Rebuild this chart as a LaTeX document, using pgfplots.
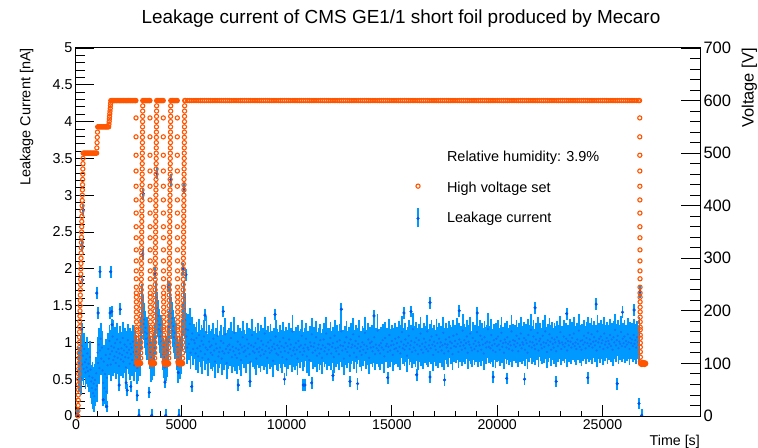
\documentclass[border=0pt]{standalone}
\usepackage{pgfplots}
\pgfplotsset{compat=1.18}
\usepackage{fontspec}
\setmainfont{Liberation Sans}
\definecolor{hvorange}{RGB}{255,85,0}
\definecolor{barblue}{RGB}{0,153,255}
\definecolor{dotblue}{RGB}{20,115,250}
\definecolor{dotdark}{RGB}{0,85,235}
\begin{document}
\begin{tikzpicture}
\useasboundingbox (-76bp,-32bp) rectangle (682bp,416bp);
\pgfplotsset{common/.style={width=624bp,height=368bp,scale only axis,xmin=0,xmax=29630,
  /pgf/number format/assume math mode=true,/pgf/number format/1000 sep={},
  tick align=inside,tick style={line width=0.9bp,color=black},axis line style={line width=1bp}},
  leak/.style n args={3}{color=#3,only marks,mark=*,mark size=#2,mark options={draw=none,fill=#3},
  error bars/.cd,y dir=both,y fixed=#1,error mark=none,error bar style={line width=1.8bp,color=barblue}}}
% frame and x ticks
\begin{axis}[common,ymin=0,ymax=5,xtick={0,5000,10000,15000,20000,25000},minor x tick num=4,
  xtick pos=left,ytick=\empty,major tick length=11bp,minor tick length=5.5bp,scaled x ticks=false,
  xticklabel style={font=\fontsize{14.2}{16}\selectfont}]
\end{axis}
% left axis: leakage current
\begin{axis}[common,ymin=0,ymax=5,axis x line=none,axis y line*=left,
  ytick={0,0.5,1,1.5,2,2.5,3,3.5,4,4.5,5},minor y tick num=4,major tick length=18bp,minor tick length=9bp,
  yticklabel style={font=\fontsize{14.4}{16}\selectfont},clip marker paths=true]
% dense readings
\addplot[leak={0.22}{0.9bp}{dotblue}] coordinates {
(130,0.55)(160,0.72)(190,0.63)(220,0.88)(250,0.51)(280,0.95)(300,0.70)
(330,0.82)(360,0.64)(390,0.91)(420,0.73)(450,0.59)(480,0.77)(510,0.66)(540,0.85)(570,0.61)(600,0.71)(630,0.54)(660,0.80)(690,0.63)
(720,0.47)(750,0.38)(780,0.52)(810,0.31)(840,0.44)(870,0.27)(900,0.49)(930,0.36)(960,0.58)(990,0.41)
(1020,0.86)(1050,0.72)(1080,0.97)(1110,0.65)(1140,0.89)(1170,1.05)(1200,0.78)(1230,0.93)
(1260,0.62)(1290,0.45)(1320,0.74)(1350,0.38)(1380,0.57)(1410,0.83)(1440,0.33)(1470,0.52)(1500,0.69)
(1530,0.91)(1560,0.78)(1590,1.02)(1620,0.84)(1650,0.70)(1680,0.95)(1710,0.88)(1740,1.08)(1770,0.76)(1800,0.93)
(1830,0.81)(1860,0.99)(1890,0.72)(1920,0.87)(1950,1.04)(1980,0.79)(2010,0.91)(2040,0.68)(2070,0.85)(2100,1.00)
(2130,0.77)(2160,0.92)(2190,0.83)(2220,1.06)(2250,0.74)(2280,0.89)(2310,0.97)(2340,0.80)(2370,0.66)(2400,0.94)
(2430,0.86)(2460,1.03)(2490,0.79)(2520,0.90)(2550,0.71)(2580,0.98)(2610,0.84)(2640,0.93)(2670,0.76)(2700,1.01)
(2730,0.87)(2760,0.69)(2790,0.95)(2820,0.82)
(2850,0.88)(2880,0.72)(2910,0.65)(2940,0.78)(2970,0.70)(3000,0.84)(3030,0.76)(3060,0.91)(3090,1.12)(3120,1.35)(3150,1.58)
(3180,1.42)(3210,1.25)(3240,1.31)(3270,1.14)(3300,1.20)(3330,1.05)(3360,1.12)(3390,0.98)(3420,1.06)(3450,0.93)(3480,1.00)
(3510,0.86)(3540,0.74)(3570,0.68)(3600,0.79)(3630,0.71)(3660,0.85)(3690,0.77)(3720,0.92)(3750,1.05)(3780,1.38)(3810,1.62)
(3840,1.47)(3870,1.29)(3900,1.36)(3930,1.18)(3960,1.24)(3990,1.08)(4020,1.15)(4050,1.01)(4080,1.09)(4110,0.95)
(4140,0.84)(4170,0.73)(4200,0.66)(4230,0.80)(4260,0.70)(4290,0.87)(4320,0.75)(4350,0.90)(4380,1.02)(4410,1.21)(4440,1.44)
(4470,1.59)(4500,1.40)(4530,1.27)(4560,1.33)(4590,1.16)(4620,1.22)(4650,1.07)(4680,1.13)(4710,0.99)(4740,1.05)(4770,0.94)
(4800,0.85)(4830,0.71)(4860,0.67)(4890,0.78)(4920,0.72)(4950,0.86)(4980,0.79)(5010,0.94)(5040,1.10)(5070,1.31)(5100,1.52)
(5130,1.61)(5160,1.45)(5190,1.30)(5220,1.18)
(5240,1.08)(5280,0.93)(5320,1.17)(5360,0.98)(5400,1.25)(5440,0.86)(5480,1.04)(5520,1.12)(5560,0.91)(5600,1.03)
(5640,0.99)(5680,0.85)(5720,1.06)(5760,0.92)(5800,0.81)(5840,1.10)(5880,0.95)(5920,0.88)(5960,1.02)(6000,0.79)
(6040,0.97)(6080,1.08)(6120,0.84)(6160,0.93)(6200,1.14)(6240,0.90)(6280,0.77)(6320,1.01)(6360,0.94)(6400,0.86)
(6440,0.96)(6480,0.83)(6520,1.05)(6560,0.89)(6600,0.74)(6640,0.98)(6680,0.92)(6720,1.09)(6760,0.81)(6800,0.87)
(6840,0.93)(6880,1.02)(6920,0.78)(6960,0.88)(7000,0.99)(7040,0.85)(7080,1.11)(7120,0.91)(7160,0.72)(7200,0.95)
(7240,0.86)(7280,0.97)(7320,0.90)(7360,1.06)(7400,0.80)(7440,0.94)(7480,0.88)(7520,1.13)(7560,0.83)(7600,0.92)
(7640,0.79)(7680,1.01)(7720,0.90)(7760,0.85)(7800,0.97)(7840,0.76)(7880,0.93)(7920,1.07)(7960,0.87)(8000,0.95)
(8040,0.89)(8080,0.81)(8120,1.04)(8160,0.92)(8200,0.98)(8240,0.84)(8280,0.73)(8320,0.96)(8360,1.10)(8400,0.88)
(8440,0.94)(8480,0.86)(8520,0.99)(8560,0.78)(8600,0.91)(8640,1.05)(8680,0.87)(8720,0.93)(8760,0.82)(8800,1.02)
(8840,0.90)(8880,0.97)(8920,0.84)(8960,1.12)(9000,0.88)(9040,0.95)(9080,0.79)(9120,1.00)(9160,0.92)(9200,0.86)
(9240,1.03)(9280,0.89)(9320,0.94)(9360,0.75)(9400,0.98)(9440,0.91)(9480,1.08)(9520,0.85)(9560,0.96)(9600,0.83)
(9640,0.92)(9680,1.01)(9720,0.87)(9760,0.95)(9800,0.80)(9840,1.06)(9880,0.93)(9920,0.88)(9960,0.99)(10000,0.77)
(10040,0.95)(10080,0.86)(10120,1.04)(10160,0.91)(10200,0.97)(10240,0.82)(10280,1.15)(10320,0.89)(10360,0.93)(10400,0.84)
(10440,0.99)(10480,0.90)(10520,0.78)(10560,1.02)(10600,0.94)(10640,0.87)(10680,0.96)(10720,1.09)(10760,0.83)(10800,0.92)
(10840,0.88)(10880,0.97)(10920,1.05)(10960,0.81)(11000,0.93)(11040,0.90)(11080,0.76)(11120,1.00)(11160,0.95)(11200,1.11)
(11240,0.86)(11280,0.94)(11320,0.99)(11360,0.89)(11400,1.07)(11440,0.82)(11480,0.92)(11520,0.97)(11560,0.85)(11600,1.03)
(11640,0.91)(11680,0.79)(11720,0.96)(11760,1.04)(11800,0.88)(11840,0.93)(11880,1.12)(11920,0.84)(11960,0.98)(12000,0.90)
(12040,0.97)(12080,1.06)(12120,0.85)(12160,0.94)(12200,0.99)(12240,0.80)(12280,1.09)(12320,0.92)(12360,0.88)(12400,1.01)
(12440,0.93)(12480,0.84)(12520,1.03)(12560,0.96)(12600,1.15)(12640,0.89)(12680,0.95)(12720,0.78)(12760,1.00)(12800,0.91)
(12840,1.07)(12880,0.87)(12920,0.94)(12960,0.99)(13000,0.82)(13040,1.04)(13080,0.93)(13120,0.97)(13160,1.11)(13200,0.86)
(13240,0.95)(13280,1.02)(13320,0.80)(13360,0.92)(13400,0.98)(13440,1.08)(13480,0.88)(13520,0.94)(13560,0.83)(13600,1.00)
(13640,0.90)(13680,0.97)(13720,1.13)(13760,0.86)(13800,0.95)(13840,0.91)(13880,1.04)(13920,0.79)(13960,0.99)(14000,0.93)
(14040,1.01)(14080,0.88)(14120,0.94)(14160,1.07)(14200,0.84)(14240,0.97)(14280,0.92)(14320,1.16)(14360,0.89)(14400,0.96)
(14440,0.85)(14480,0.99)(14520,0.93)(14560,1.03)(14600,0.90)(14640,0.81)(14680,1.06)(14720,0.95)(14760,0.98)(14800,0.87)
(14840,0.94)(14880,1.10)(14920,0.89)(14960,0.96)(15000,1.02)(15040,0.83)(15080,0.97)(15120,0.91)(15160,1.05)(15200,0.92)
(15240,0.99)(15280,0.88)(15320,1.07)(15360,0.94)(15400,0.85)(15440,1.01)(15480,1.14)(15520,0.92)(15560,0.97)(15600,0.90)
(15640,1.04)(15680,0.95)(15720,0.82)(15760,0.99)(15800,1.09)(15840,0.91)(15880,0.96)(15920,1.02)(15960,0.87)(16000,1.18)
(16040,0.93)(16080,1.00)(16120,0.89)(16160,1.06)(16200,0.97)(16240,0.84)(16280,1.03)(16320,0.95)(16360,1.12)(16400,0.90)
(16440,0.98)(16480,0.86)(16520,1.05)(16560,0.94)(16600,1.00)(16640,0.91)(16680,1.15)(16720,0.88)(16760,0.96)(16800,1.03)
(16840,0.92)(16880,1.08)(16920,0.97)(16960,0.83)(17000,1.01)(17040,0.95)(17080,0.90)(17120,1.10)(17160,0.99)(17200,0.87)
(17240,1.05)(17280,0.94)(17320,1.00)(17360,0.89)(17400,0.96)(17440,1.13)(17480,0.85)(17520,0.98)(17560,1.04)(17600,0.93)
(17640,0.97)(17680,0.88)(17720,1.07)(17760,1.01)(17800,0.92)(17840,0.99)(17880,0.84)(17920,1.09)(17960,0.95)(18000,1.02)
(18040,0.94)(18080,1.11)(18120,0.98)(18160,0.87)(18200,1.04)(18240,0.95)(18280,1.00)(18320,0.90)(18360,1.16)(18400,0.96)
(18440,1.03)(18480,0.92)(18520,0.99)(18560,1.08)(18600,0.86)(18640,1.01)(18680,0.97)(18720,1.12)(18760,0.93)(18800,0.89)
(18840,1.06)(18880,0.98)(18920,0.91)(18960,1.02)(19000,0.95)(19040,1.14)(19080,0.88)(19120,1.00)(19160,0.96)(19200,1.09)
(19240,0.90)(19280,1.04)(19320,0.97)(19360,0.85)(19400,1.07)(19440,0.99)(19480,0.93)(19520,1.01)(19560,1.18)(19600,0.94)
(19640,1.00)(19680,0.92)(19720,1.10)(19760,0.96)(19800,0.89)(19840,1.03)(19880,0.98)(19920,0.87)(19960,1.05)(20000,0.95)
(20040,1.08)(20080,0.97)(20120,0.90)(20160,1.02)(20200,1.13)(20240,0.94)(20280,0.99)(20320,0.86)(20360,1.04)(20400,1.00)
(20440,0.93)(20480,1.07)(20520,0.98)(20560,0.91)(20600,1.01)(20640,0.96)(20680,1.15)(20720,0.89)(20760,1.03)(20800,0.97)
(20840,1.02)(20880,0.94)(20920,1.09)(20960,0.99)(21000,0.88)(21040,1.05)(21080,0.96)(21120,1.12)(21160,0.92)(21200,1.00)
(21240,0.97)(21280,1.06)(21320,0.90)(21360,1.03)(21400,0.99)(21440,0.86)(21480,1.10)(21520,0.95)(21560,1.01)(21600,1.17)
(21640,0.93)(21680,1.00)(21720,1.08)(21760,0.96)(21800,0.91)(21840,1.04)(21880,0.98)(21920,1.13)(21960,0.89)(22000,1.02)
(22040,1.05)(22080,0.97)(22120,0.92)(22160,1.09)(22200,1.00)(22240,0.94)(22280,1.15)(22320,0.99)(22360,0.87)(22400,1.03)
(22440,0.96)(22480,1.11)(22520,1.01)(22560,0.90)(22600,1.06)(22640,0.98)(22680,0.93)(22720,1.04)(22760,1.00)(22800,0.88)
(22840,1.07)(22880,0.95)(22920,1.02)(22960,0.99)(23000,1.14)(23040,0.91)(23080,1.00)(23120,0.97)(23160,1.08)(23200,0.94)
(23240,0.99)(23280,1.05)(23320,0.89)(23360,1.02)(23400,0.96)(23440,1.10)(23480,1.01)(23520,0.93)(23560,1.06)(23600,0.98)
(23640,1.12)(23680,0.95)(23720,1.00)(23760,0.91)(23800,1.04)(23840,0.98)(23880,1.16)(23920,0.94)(23960,1.02)(24000,0.90)
(24040,1.03)(24080,0.97)(24120,1.09)(24160,1.00)(24200,0.92)(24240,1.06)(24280,0.99)(24320,1.13)(24360,0.95)(24400,1.04)
(24440,0.98)(24480,1.11)(24520,0.93)(24560,1.01)(24600,1.07)(24640,0.96)(24680,1.02)(24720,0.89)(24760,1.15)(24800,1.00)
(24840,1.05)(24880,0.94)(24920,1.08)(24960,0.99)(25000,1.03)(25040,0.91)(25080,1.12)(25120,0.97)(25160,1.01)(25200,1.06)
(25240,0.93)(25280,1.02)(25320,0.98)(25360,1.10)(25400,0.95)(25440,1.04)(25480,0.90)(25520,1.07)(25560,1.00)(25600,1.17)
(25640,0.96)(25680,1.03)(25720,1.09)(25760,0.92)(25800,1.01)(25840,0.98)(25880,1.14)(25920,0.95)(25960,1.05)(26000,0.99)
(26040,1.08)(26080,0.94)(26120,1.02)(26160,0.97)(26200,1.11)(26240,1.00)(26280,0.91)(26320,1.06)(26360,0.99)(26400,1.04)
(26440,0.95)(26480,1.10)(26520,0.98)(26560,1.03)(26600,0.93)(26640,1.07)(26680,1.00)(26720,0.96)(26760,1.12)
};
% isolated readings
\addplot[leak={0.08}{1.4bp}{dotdark}] coordinates {
(30,0.01)(60,0.02)(100,0.01)(270,1.18)(285,2.32)(310,1.85)(350,2.80)
(985,1.67)(1050,1.40)(1140,1.96)(1290,0.22)(1456,0.13)(1614,1.40)(1646,1.96)(1694,1.42)(1710,1.24)(2430,0.35)(2100,1.45)(2600,0.40)(2050,0.42)(2380,0.45)
(2912,0.28)(3480,0.32)(4226,0.46)(4858,0.59)(3196,3.02)(3830,3.30)(4497,3.21)(5128,3.09)(2991,0.01)(3594,0.01)(4259,0.01)(4890,0.01)(3750,1.94)(4383,1.76)(5097,2.00)(3170,2.20)
(5223,1.92)(5493,0.40)(6125,1.37)(6995,1.42)(7706,0.42)(8262,0.47)(10870,0.42)(11190,0.45)(13010,0.47)(13370,0.44)
(10793,0.42)(16808,1.54)(19054,1.40)(16175,0.56)(16808,0.53)(19815,0.53)(20450,0.51)(15906,1.42)(15573,1.40)(9450,1.38)
(12600,1.45)(14150,1.36)(18200,1.43)(21800,1.47)(23300,1.39)(24700,1.52)(25950,1.41)(26500,1.44)(9900,0.50)(12200,0.55)
(14800,0.52)(17500,0.49)(21300,0.50)(22800,0.47)(24300,0.52)(25700,0.44)(26780,1.69)(26731,0.17)(26860,0.01)
};
\end{axis}
% right axis: voltage
\begin{axis}[common,ymin=0,ymax=700,axis x line=none,axis y line*=right,
  ytick={0,100,200,300,400,500,600,700},minor y tick num=4,major tick length=19bp,minor tick length=10bp,
  yticklabel style={font=\fontsize{16.6}{18}\selectfont},
  legend cell align=left,
  legend style={draw=none,fill=none,inner sep=0pt,outer sep=0pt,row sep=0pt,column sep=0pt,
    at={(0.5439,0.7318)},anchor=north west,font=\fontsize{14.5}{17}\selectfont,
    nodes={inner sep=0pt,text height=15bp,text depth=15.5bp}}]
\addlegendimage{legend image code/.code={}}
\addlegendentry{Relative humidity: 3.9\%}
\addplot[only marks,mark=o,mark size=2.1bp,color=hvorange,mark options={draw=hvorange,line width=1.1bp},
  legend image code/.code={\path[draw=none,fill=none] (0bp,0bp) -- (29bp,0bp); \draw[hvorange,line width=1.1bp] (0bp,6.3bp) circle (2.1bp);}]
coordinates {
(90,0)(95,10)(100,20)(105,30)(110,40)(115,50)(120,60)(125,70)(130,80)(135,90)(140,100)(145,110)(150,120)(155,130)(160,140)(165,150)(170,160)
(175,170)(180,180)(185,190)(190,200)(195,210)(200,220)(205,230)(210,240)(215,250)(220,260)(225,270)(230,280)(235,290)(240,300)(245,310)
(250,320)(255,330)(260,340)(265,350)(270,360)(275,370)(280,380)(285,390)(290,400)(295,410)(300,420)(305,430)(310,440)(315,450)(320,460)
(325,470)(330,480)(335,490)(340,500)
(380,500)(420,500)(460,500)(500,500)(540,500)(580,500)(620,500)(660,500)(700,500)(740,500)(780,500)(820,500)(860,500)(900,500)(940,500)(980,500)
(990,510)(1000,520)(1010,530)(1020,540)(1030,550)
(1070,550)(1110,550)(1150,550)(1190,550)(1230,550)(1270,550)(1310,550)(1350,550)(1390,550)(1430,550)(1470,550)(1510,550)(1550,550)
(1565,555)(1575,560)(1585,565)(1595,570)(1605,575)(1615,580)(1625,585)(1635,590)(1645,595)(1655,600)
(1695,600)(1735,600)(1775,600)(1815,600)(1855,600)(1895,600)(1935,600)(1975,600)(2015,600)(2055,600)(2095,600)(2135,600)(2175,600)
(2215,600)(2255,600)(2295,600)(2335,600)(2375,600)(2415,600)(2455,600)(2495,600)(2535,600)(2575,600)(2615,600)(2655,600)(2695,600)
(2735,600)(2775,600)(2815,600)(2845,600)
(2850,567)(2851,531)(2852,496)(2853,466)(2854,437)(2855,411)(2856,386)(2857,360)(2858,339)(2859,316)(2860,295)(2861,276)(2862,261)(2863,245)(2864,234)
(2865,226)(2866,217)(2867,207)(2868,198)(2869,188)(2870,179)(2871,169)(2872,164)(2873,154)(2874,148)(2875,139)(2876,131)(2877,122)(2878,112)(2879,103)
(2895,100)(2915,98)(2935,101)(2955,99)(2975,100)(2995,102)(3015,99)(3035,100)(3055,101)
(3070,100)(3072,110)(3074,120)(3076,130)(3078,140)(3080,150)(3082,160)(3084,170)(3086,180)(3088,190)(3090,200)(3092,210)(3094,220)(3096,230)
(3098,240)(3100,250)(3102,260)(3104,270)(3106,280)(3108,290)(3110,300)(3112,310)(3114,320)(3116,330)(3118,340)(3120,350)(3122,360)(3124,370)
(3126,380)(3128,390)(3130,400)(3132,410)(3134,420)(3136,430)(3138,440)(3140,450)(3142,460)(3144,470)(3146,480)(3148,490)(3150,500)(3152,510)
(3154,520)(3156,530)(3158,540)(3160,550)(3162,560)(3164,570)(3166,580)(3168,590)(3170,600)
(3210,600)(3250,600)(3290,600)(3330,600)(3370,600)(3410,600)(3450,600)(3490,600)(3510,600)
(3512,567)(3513,531)(3514,496)(3515,466)(3516,437)(3517,411)(3518,386)(3519,360)(3520,339)(3521,316)(3522,295)(3523,276)(3524,261)(3525,245)(3526,234)
(3527,226)(3528,217)(3529,207)(3530,198)(3531,188)(3532,179)(3533,169)(3534,164)(3535,154)(3536,148)(3537,139)(3538,131)(3539,122)(3540,112)(3541,103)
(3555,100)(3575,99)(3595,101)(3615,98)(3635,100)(3655,102)(3675,100)(3695,99)(3715,101)
(3730,100)(3732,110)(3734,120)(3736,130)(3738,140)(3740,150)(3742,160)(3744,170)(3746,180)(3748,190)(3750,200)(3752,210)(3754,220)(3756,230)
(3758,240)(3760,250)(3762,260)(3764,270)(3766,280)(3768,290)(3770,300)(3772,310)(3774,320)(3776,330)(3778,340)(3780,350)(3782,360)(3784,370)
(3786,380)(3788,390)(3790,400)(3792,410)(3794,420)(3796,430)(3798,440)(3800,450)(3802,460)(3804,470)(3806,480)(3808,490)(3810,500)(3812,510)
(3814,520)(3816,530)(3818,540)(3820,550)(3822,560)(3824,570)(3826,580)(3828,590)(3830,600)
(3870,600)(3910,600)(3950,600)(3990,600)(4030,600)(4070,600)(4110,600)(4143,600)
(4145,567)(4146,531)(4147,496)(4148,466)(4149,437)(4150,411)(4151,386)(4152,360)(4153,339)(4154,316)(4155,295)(4156,276)(4157,261)(4158,245)(4159,234)
(4160,226)(4161,217)(4162,207)(4163,198)(4164,188)(4165,179)(4166,169)(4167,164)(4168,154)(4169,148)(4170,139)(4171,131)(4172,122)(4173,112)(4174,103)
(4190,100)(4210,98)(4230,101)(4250,100)(4270,99)(4290,102)(4310,100)(4330,98)(4350,101)(4370,100)(4385,99)
(4400,100)(4402,110)(4404,120)(4406,130)(4408,140)(4410,150)(4412,160)(4414,170)(4416,180)(4418,190)(4420,200)(4422,210)(4424,220)(4426,230)
(4428,240)(4430,250)(4432,260)(4434,270)(4436,280)(4438,290)(4440,300)(4442,310)(4444,320)(4446,330)(4448,340)(4450,350)(4452,360)(4454,370)
(4456,380)(4458,390)(4460,400)(4462,410)(4464,420)(4466,430)(4468,440)(4470,450)(4472,460)(4474,470)(4476,480)(4478,490)(4480,500)(4482,510)
(4484,520)(4486,530)(4488,540)(4490,550)(4492,560)(4494,570)(4496,580)(4498,590)(4500,600)
(4540,600)(4580,600)(4620,600)(4660,600)(4700,600)(4740,600)(4780,600)(4808,600)
(4810,567)(4811,531)(4812,496)(4813,466)(4814,437)(4815,411)(4816,386)(4817,360)(4818,339)(4819,316)(4820,295)(4821,276)(4822,261)(4823,245)(4824,234)
(4825,226)(4826,217)(4827,207)(4828,198)(4829,188)(4830,179)(4831,169)(4832,164)(4833,154)(4834,148)(4835,139)(4836,131)(4837,122)(4838,112)(4839,103)
(4855,100)(4875,101)(4895,99)(4915,100)(4935,98)(4955,101)(4975,100)(4995,102)(5015,99)(5035,100)(5048,101)
(5060,100)(5062,110)(5064,120)(5066,130)(5068,140)(5070,150)(5072,160)(5074,170)(5076,180)(5078,190)(5080,200)(5082,210)(5084,220)(5086,230)
(5088,240)(5090,250)(5092,260)(5094,270)(5096,280)(5098,290)(5100,300)(5102,310)(5104,320)(5106,330)(5108,340)(5110,350)(5112,360)(5114,370)
(5116,380)(5118,390)(5120,400)(5122,410)(5124,420)(5126,430)(5128,440)(5130,450)(5132,460)(5134,470)(5136,480)(5138,490)(5140,500)(5142,510)
(5144,520)(5146,530)(5148,540)(5150,550)(5152,560)(5154,570)(5156,580)(5158,590)(5160,600)
(5200,600)(5300,600)(5400,600)(5500,600)(5600,600)(5700,600)(5800,600)(5900,600)(6000,600)(6100,600)
(6200,600)(6300,600)(6400,600)(6500,600)(6600,600)(6700,600)(6800,600)(6900,600)(7000,600)(7100,600)
(7200,600)(7300,600)(7400,600)(7500,600)(7600,600)(7700,600)(7800,600)(7900,600)(8000,600)(8100,600)
(8200,600)(8300,600)(8400,600)(8500,600)(8600,600)(8700,600)(8800,600)(8900,600)(9000,600)(9100,600)
(9200,600)(9300,600)(9400,600)(9500,600)(9600,600)(9700,600)(9800,600)(9900,600)(10000,600)(10100,600)
(10200,600)(10300,600)(10400,600)(10500,600)(10600,600)(10700,600)(10800,600)(10900,600)(11000,600)(11100,600)
(11200,600)(11300,600)(11400,600)(11500,600)(11600,600)(11700,600)(11800,600)(11900,600)(12000,600)(12100,600)
(12200,600)(12300,600)(12400,600)(12500,600)(12600,600)(12700,600)(12800,600)(12900,600)(13000,600)(13100,600)
(13200,600)(13300,600)(13400,600)(13500,600)(13600,600)(13700,600)(13800,600)(13900,600)(14000,600)(14100,600)
(14200,600)(14300,600)(14400,600)(14500,600)(14600,600)(14700,600)(14800,600)(14900,600)(15000,600)(15100,600)
(15200,600)(15300,600)(15400,600)(15500,600)(15600,600)(15700,600)(15800,600)(15900,600)(16000,600)(16100,600)
(16200,600)(16300,600)(16400,600)(16500,600)(16600,600)(16700,600)(16800,600)(16900,600)(17000,600)(17100,600)
(17200,600)(17300,600)(17400,600)(17500,600)(17600,600)(17700,600)(17800,600)(17900,600)(18000,600)(18100,600)
(18200,600)(18300,600)(18400,600)(18500,600)(18600,600)(18700,600)(18800,600)(18900,600)(19000,600)(19100,600)
(19200,600)(19300,600)(19400,600)(19500,600)(19600,600)(19700,600)(19800,600)(19900,600)(20000,600)(20100,600)
(20200,600)(20300,600)(20400,600)(20500,600)(20600,600)(20700,600)(20800,600)(20900,600)(21000,600)(21100,600)
(21200,600)(21300,600)(21400,600)(21500,600)(21600,600)(21700,600)(21800,600)(21900,600)(22000,600)(22100,600)
(22200,600)(22300,600)(22400,600)(22500,600)(22600,600)(22700,600)(22800,600)(22900,600)(23000,600)(23100,600)
(23200,600)(23300,600)(23400,600)(23500,600)(23600,600)(23700,600)(23800,600)(23900,600)(24000,600)(24100,600)
(24200,600)(24300,600)(24400,600)(24500,600)(24600,600)(24700,600)(24800,600)(24900,600)(25000,600)(25100,600)
(25200,600)(25300,600)(25400,600)(25500,600)(25600,600)(25700,600)(25800,600)(25900,600)(26000,600)(26100,600)
(26200,600)(26300,600)(26400,600)(26500,600)(26600,600)(26700,600)(26760,600)
(26770,567)(26771,531)(26772,496)(26773,466)(26774,437)(26775,411)(26776,386)(26777,360)(26778,339)(26779,316)(26780,295)(26781,276)(26782,261)(26783,245)(26784,234)
(26785,226)(26786,217)(26787,207)(26788,198)(26789,188)(26790,179)(26791,169)(26792,164)(26793,154)(26794,148)(26795,139)(26796,131)(26797,122)(26798,112)(26799,103)
(26810,100)(26825,99)(26840,101)(26855,100)(26870,98)(26885,101)(26900,100)(26915,102)(26930,99)(26945,100)(26960,101)(26975,100)(26990,98)(27005,100)(27020,101)(27035,99)(27050,100)
};
\addlegendentry{High voltage set}
\addlegendimage{legend image code/.code={\path[draw=none,fill=none] (0bp,0bp) -- (29bp,0bp); \draw[barblue,line width=1.5bp] (0bp,-4.3bp) -- (0bp,14.7bp); \fill[dotdark] (0bp,4.7bp) circle (1.4bp);}}
\addlegendentry{Leakage current}
\end{axis}
\node[anchor=base,inner sep=0pt,font=\fontsize{19}{22}\selectfont] at (325bp,392bp) {Leakage current of CMS GE1/1 short foil produced by Mecaro};
\node[rotate=90,anchor=base east,inner sep=0pt,font=\fontsize{14.5}{17}\selectfont] at (-45.7bp,368bp) {Leakage Current [nA]};
\node[rotate=90,anchor=base east,inner sep=0pt,font=\fontsize{16.5}{20}\selectfont] at (677.5bp,368bp) {Voltage [V]};
\node[anchor=base east,inner sep=0pt,font=\fontsize{14.3}{17}\selectfont] at (624bp,-29bp) {Time [s]};
\end{tikzpicture}
\end{document}
